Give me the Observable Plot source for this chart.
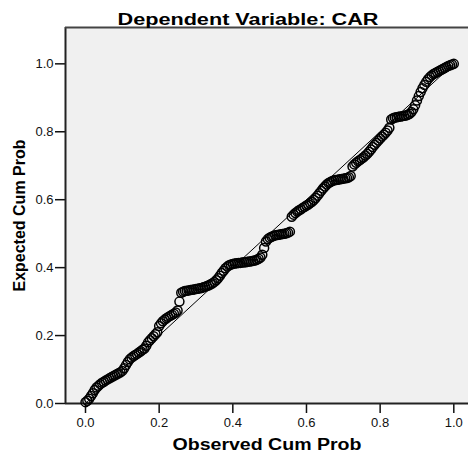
<!DOCTYPE html>
<html>
<head>
<meta charset="utf-8">
<script src="https://cdn.jsdelivr.net/npm/d3@7"></script>
<script src="https://cdn.jsdelivr.net/npm/@observablehq/plot@0.6"></script>
<style>
  html, body { margin: 0; padding: 0; background: #fff; overflow: hidden; }
  svg { display: block; }
</style>
</head>
<body>
<div id="chart"></div>
<script>
const titleText = "Dependent Variable: CAR";
const xLabel = "Observed Cum Prob";
const yLabel = "Expected Cum Prob";
const tickValues = [0, 0.2, 0.4, 0.6, 0.8, 1.0];
const refLine = [0, 1];

const observed = [
0.000,0.005,0.010,0.015,0.020,0.025,0.030,0.035,0.040,0.045,
0.050,0.055,0.060,0.065,0.070,0.075,0.080,0.085,0.090,0.095,
0.100,0.105,0.110,0.115,0.120,0.125,0.130,0.135,0.140,0.145,
0.150,0.155,0.160,0.165,0.170,0.175,0.180,0.185,0.190,0.195,
0.200,0.205,0.210,0.215,0.220,0.225,0.230,0.235,0.240,0.245,
0.250,0.255,0.260,0.265,0.270,0.275,0.280,0.285,0.290,0.295,
0.300,0.305,0.310,0.315,0.320,0.325,0.330,0.335,0.340,0.345,
0.350,0.355,0.360,0.365,0.370,0.375,0.380,0.385,0.390,0.395,
0.400,0.405,0.410,0.415,0.420,0.425,0.430,0.435,0.440,0.445,
0.450,0.455,0.460,0.465,0.470,0.475,0.480,0.485,0.490,0.495,
0.500,0.505,0.510,0.515,0.520,0.525,0.530,0.535,0.540,0.545,
0.550,0.555,0.560,0.565,0.570,0.575,0.580,0.585,0.590,0.595,
0.600,0.605,0.610,0.615,0.620,0.625,0.630,0.635,0.640,0.645,
0.650,0.655,0.660,0.665,0.670,0.675,0.680,0.685,0.690,0.695,
0.700,0.705,0.710,0.715,0.720,0.725,0.730,0.735,0.740,0.745,
0.750,0.755,0.760,0.765,0.770,0.775,0.780,0.785,0.790,0.795,
0.800,0.805,0.810,0.815,0.820,0.825,0.830,0.835,0.840,0.845,
0.850,0.855,0.860,0.865,0.870,0.875,0.880,0.885,0.890,0.895,
0.900,0.905,0.910,0.915,0.920,0.925,0.930,0.935,0.940,0.945,
0.950,0.955,0.960,0.965,0.970,0.975,0.980,0.985,0.990,0.995,
1.000
];

const expected = [
0.004,0.008,0.014,0.022,0.030,0.040,0.047,0.052,0.057,0.061,
0.064,0.068,0.071,0.074,0.077,0.080,0.083,0.086,0.089,0.092,
0.096,0.104,0.113,0.122,0.130,0.135,0.139,0.143,0.146,0.150,
0.154,0.158,0.162,0.170,0.180,0.186,0.192,0.198,0.204,0.210,
0.228,0.236,0.242,0.247,0.251,0.255,0.258,0.261,0.264,0.268,
0.274,0.300,0.326,0.329,0.331,0.332,0.333,0.334,0.335,0.336,
0.337,0.338,0.339,0.340,0.342,0.344,0.346,0.348,0.351,0.354,
0.358,0.363,0.369,0.376,0.384,0.391,0.398,0.403,0.407,0.409,
0.411,0.412,0.413,0.414,0.414,0.415,0.416,0.416,0.417,0.418,
0.419,0.420,0.421,0.423,0.426,0.430,0.438,0.458,0.477,0.484,
0.488,0.491,0.493,0.495,0.496,0.497,0.498,0.499,0.500,0.501,
0.503,0.506,0.550,0.556,0.561,0.565,0.569,0.572,0.576,0.579,
0.583,0.586,0.590,0.594,0.599,0.605,0.612,0.619,0.626,0.633,
0.639,0.645,0.649,0.652,0.655,0.657,0.658,0.659,0.660,0.661,
0.662,0.663,0.664,0.666,0.670,0.698,0.704,0.709,0.713,0.717,
0.721,0.725,0.730,0.735,0.741,0.748,0.755,0.762,0.768,0.774,
0.780,0.786,0.791,0.797,0.804,0.812,0.836,0.840,0.842,0.843,
0.844,0.845,0.846,0.847,0.848,0.850,0.853,0.858,0.866,0.878,
0.892,0.905,0.917,0.928,0.938,0.947,0.955,0.961,0.966,0.970,
0.973,0.976,0.979,0.982,0.985,0.988,0.991,0.994,0.996,0.998,
1.000
];

const points = observed.map((o, i) => ({obs: o, exp: expected[i]}));
const xDomain = [-0.0543, 1.0399];
const yDomain = [0, 1.107];
const font = "'Liberation Sans', Arial, Helvetica, sans-serif";

const chart = Plot.plot({
  width: 468,
  height: 455,
  marginLeft: 65,
  marginRight: 0,
  marginTop: 27,
  marginBottom: 52,
  style: {fontFamily: font, fontSize: "13px", color: "#000", background: "#fff", overflow: "visible"},
  x: {domain: xDomain, ticks: tickValues, tickFormat: d3.format(".1f"), tickSize: 10, tickPadding: 4, label: null},
  y: {domain: yDomain, ticks: tickValues, tickFormat: d3.format(".1f"), tickSize: 10, tickPadding: 2, label: null},
  marks: [
    Plot.frame({fill: "#f0f0f0", stroke: null}),
    Plot.axisX({ticks: tickValues, tickFormat: d3.format(".1f"), tickSize: 10, tickPadding: 4, label: null, stroke: "#111", strokeWidth: 1.5, fill: "#111", fontSize: 13}),
    Plot.axisY({ticks: tickValues, tickFormat: d3.format(".1f"), tickSize: 10, tickPadding: 2, label: null, stroke: "#111", strokeWidth: 1.5, fill: "#111", fontSize: 13}),
    Plot.ruleX([xDomain[0]], {stroke: "#222", strokeWidth: 2}),
    Plot.ruleY([yDomain[0]], {stroke: "#222", strokeWidth: 2}),
    Plot.ruleY([yDomain[1]], {stroke: "#444", strokeWidth: 2}),
    Plot.line(refLine.map(v => ({v})), {x: "v", y: "v", stroke: "#000", strokeWidth: 1}),
    Plot.dot(points, {x: "obs", y: "exp", r: 4.5, stroke: "#000", strokeWidth: 1.5, fill: "none"}),
    Plot.text([titleText], {frameAnchor: "top", text: d => d, dy: -3, lineAnchor: "bottom", fontWeight: "bold", fontSize: 16, fill: "#000", dx: -19}),
    Plot.text([xLabel], {frameAnchor: "bottom", text: d => d, dy: 46, lineAnchor: "bottom", fontWeight: "bold", fontSize: 16, fill: "#000"}),
    Plot.text([yLabel], {frameAnchor: "left", textAnchor: "middle", text: d => d, dx: -41, rotate: -90, lineAnchor: "bottom", fontWeight: "bold", fontSize: 16, fill: "#000"})
  ]
});

document.getElementById("chart").appendChild(chart);

// mimic the horizontal stretch of the reference's horizontal labels
d3.select(chart).selectAll("text").each(function() {
  const t = this.textContent;
  if (t === titleText) { d3.select(this).attr("textLength", 261).attr("lengthAdjust", "spacingAndGlyphs"); }
  if (t === xLabel) { d3.select(this).attr("textLength", 189).attr("lengthAdjust", "spacingAndGlyphs"); }
});
</script>
</body>
</html>
